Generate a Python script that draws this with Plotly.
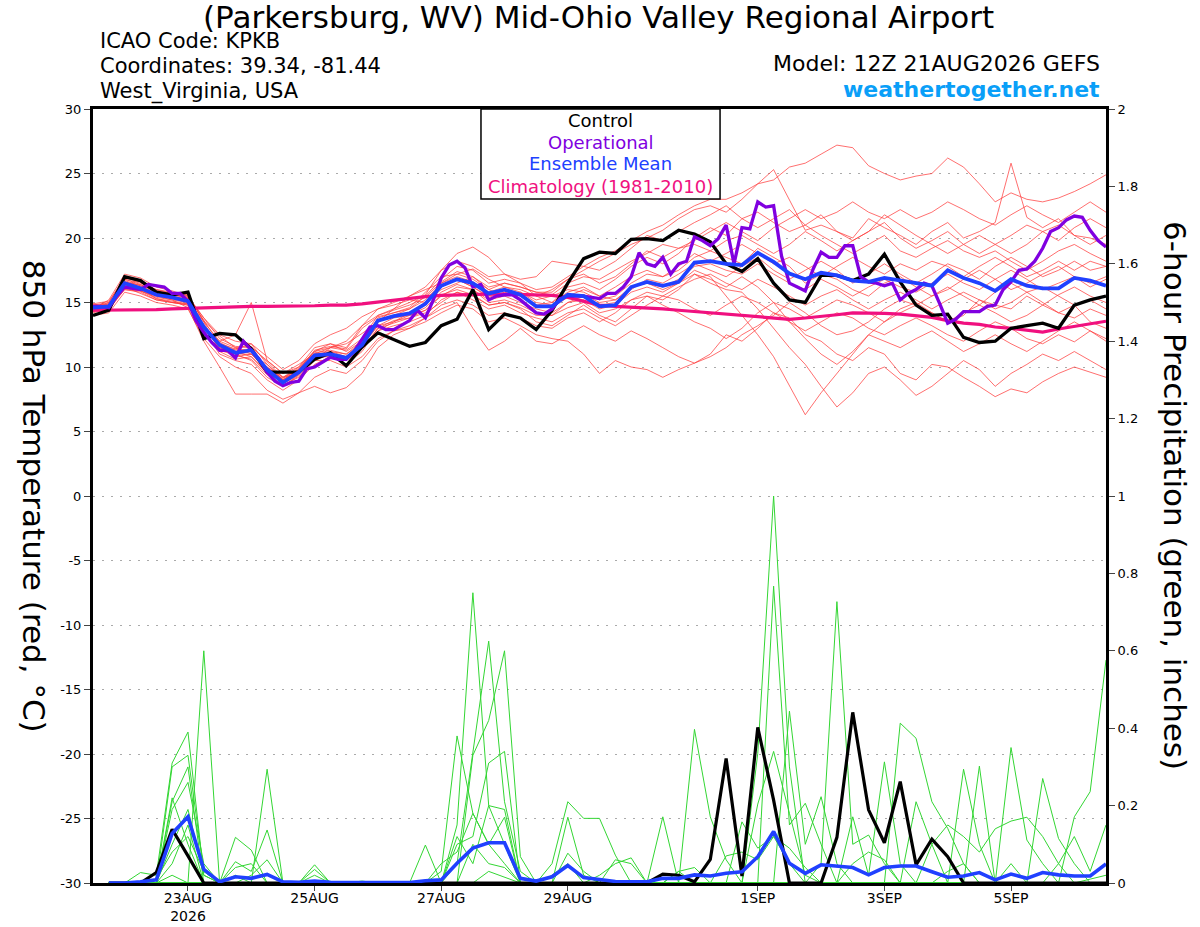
import datetime as dt
import plotly.graph_objects as go

# forecast run and time steps
init = dt.datetime(2026, 8, 21, 12)
t6 = [init + dt.timedelta(hours=6 * k) for k in range(65)]
t3 = [init + dt.timedelta(hours=3 * k) for k in range(129)]
t_precip = t6[1:]

tick_days = ["2026-08-23", "2026-08-25", "2026-08-27", "2026-08-29",
             "2026-09-01", "2026-09-03", "2026-09-05"]
tick_text = ["23AUG<br>2026", "25AUG", "27AUG", "29AUG", "1SEP", "3SEP", "5SEP"]
temp_ticks = [30, 25, 20, 15, 10, 5, 0, -5, -10, -15, -20, -25, -30]
temp_tick_text = ["30", "25", "20", "15", "10", "5", "0", "-5", "-10", "-15", "-20", "-25", "-30"]

# 850 hPa temperature (C), 6-hourly
control_t = [14.0, 14.4, 17.0, 16.7, 15.8, 15.6, 15.8, 12.2, 12.6, 12.5, 11.4, 9.6, 9.6,
             9.6, 10.6, 11.1, 10.1, 11.55, 12.65, 12.1, 11.6, 11.9, 13.2, 13.7, 16.0, 12.9,
             14.1, 13.8, 12.9, 14.4, 16.5, 18.4, 18.9, 18.8, 19.9, 19.95, 19.8, 20.6, 20.3,
             19.7, 18.0, 17.4, 18.4, 16.5, 15.2, 15.0, 17.1, 17.1, 16.7, 17.2, 18.75, 16.6,
             14.8, 14.0, 14.1, 12.3, 11.9, 12.0, 13.0, 13.2, 13.4, 13.0, 14.8, 15.2, 15.5]

mean_t = [14.6, 14.7, 16.5, 16.1, 15.6, 15.4, 15.1, 13.1, 11.7, 11.1, 11.3, 9.8, 8.8,
          9.6, 10.9, 11.0, 10.7, 11.7, 13.6, 13.95, 14.15, 14.9, 16.3, 16.8, 16.5, 15.7,
          16.0, 15.6, 14.7, 14.7, 15.6, 15.5, 14.7, 14.8, 16.2, 16.6, 16.3, 16.6, 18.1,
          18.2, 18.0, 17.9, 18.85, 18.15, 17.25, 16.8, 17.3, 17.1, 16.7, 16.6, 16.9, 16.7,
          16.5, 16.3, 17.5, 16.9, 16.5, 15.9, 16.8, 16.3, 16.1, 16.1, 16.9, 16.7, 16.3]

climo_t = [14.4, 14.4, 14.4, 14.4, 14.45, 14.5, 14.55, 14.6, 14.65, 14.65, 14.7, 14.7, 14.7,
           14.7, 14.75, 14.8, 14.8, 14.9, 15.05, 15.2, 15.35, 15.45, 15.55, 15.6, 15.65, 15.65,
           15.65, 15.6, 15.6, 15.55, 15.4, 15.1, 14.8, 14.7, 14.65, 14.6, 14.5, 14.4, 14.3,
           14.2, 14.1, 13.95, 13.85, 13.75, 13.7, 13.8, 13.9, 14.05, 14.2, 14.2, 14.15, 14.1,
           14.0, 13.85, 13.6, 13.4, 13.3, 13.1, 13.0, 12.85, 12.7, 12.95, 13.15, 13.35, 13.55]

# operational run, 3-hourly
oper_t = [14.7, 14.7, 14.6, 15.5, 16.2, 16.1, 16.0, 16.4, 16.3, 16.2, 15.7, 15.7, 15.1,
          13.6, 12.7, 11.9, 11.3, 11.3, 10.7, 12.0, 11.3, 10.6, 9.6, 8.9, 8.55, 8.8,
          8.9, 9.85, 10.0, 10.4, 10.75, 10.6, 10.6, 11.2,
          12.1, 13.1, 13.2, 12.9, 12.9, 13.25, 13.6, 14.4, 13.8, 15.2, 16.9, 17.9, 18.2,
          17.7, 16.2, 16.4, 15.2, 15.5, 15.6, 15.6, 15.2, 14.7, 14.2, 14.1, 14.5, 15.3,
          15.5, 15.5, 15.5, 15.4, 15.3, 15.7, 15.7,
          16.2, 17.0, 18.85, 18.0, 17.8, 18.5, 17.2, 18.0, 18.2, 20.1, 19.8, 19.4, 19.95,
          21.0, 18.0, 20.8, 20.7, 22.8, 22.4, 22.5, 18.6, 16.5, 16.2, 15.9, 17.6, 18.9,
          18.5, 18.5, 19.4, 19.4,
          17.0, 16.6, 16.5, 16.3, 16.5, 15.2, 15.7, 16.0, 16.5, 16.3, 14.9, 13.4, 13.7,
          14.3, 14.3, 14.3, 14.7, 14.8, 16.0, 16.6, 17.5, 17.6, 18.2, 19.2, 20.5, 20.8,
          21.4, 21.7, 21.6, 20.6, 19.8, 19.3]

# ensemble members (red)
r01 = [14.8, 15.0, 16.8, 16.5, 16.0, 15.8, 15.6, 13.5, 12.0, 11.5, 11.0, 10.0, 9.0,
       9.8, 11.2, 11.8, 11.5, 13.2, 14.0, 14.5, 15.0, 15.6, 17.5, 18.8, 19.3, 18.5,
       17.2, 16.5, 16.0, 16.2, 17.0, 17.8, 18.5, 19.0, 19.8, 20.5, 21.0, 21.8, 22.5,
       23.0, 23.0, 23.5, 24.2, 24.5, 25.5, 25.8, 26.5, 27.2, 27.0, 25.6, 25.0, 24.5,
       24.8, 25.0, 26.2, 25.5, 24.2, 22.8, 23.5, 23.0, 22.8, 23.1, 23.6, 24.2, 24.9]
r02 = [14.5, 14.9, 16.3, 16.8, 15.9, 15.5, 15.2, 13.0, 11.5, 11.2, 10.8, 9.5, 8.6,
       9.2, 10.5, 11.5, 11.8, 12.6, 13.5, 14.5, 15.5, 16.0, 16.5, 17.2, 17.6, 16.8,
       16.2, 16.0, 15.5, 16.0, 16.8, 17.5, 18.2, 18.8, 19.5, 20.0, 20.6, 21.5, 22.2,
       22.5, 22.0, 23.0, 24.2, 25.3, 23.0, 20.6, 21.0, 20.5, 20.0, 21.5, 20.8, 20.2,
       19.5, 20.5, 21.2, 20.0, 20.5, 21.2, 25.8, 21.6, 20.8, 21.5, 20.2, 20.0, 19.5]
r03 = [14.2, 14.5, 16.0, 15.8, 15.2, 15.0, 14.8, 12.8, 11.0, 10.5, 10.2, 9.0, 8.2,
       9.0, 10.2, 10.8, 10.5, 11.5, 12.8, 13.5, 14.0, 14.4, 15.5, 16.2, 16.0, 15.0,
       15.2, 14.8, 14.2, 14.0, 15.0, 15.5, 14.8, 15.0, 16.2, 16.5, 16.0, 16.5, 17.5,
       17.0, 15.5, 14.0, 12.5, 10.8, 8.5, 6.3, 8.0, 9.5, 11.0, 12.5, 13.5, 14.5,
       15.0, 14.2, 13.5, 14.0, 15.2, 14.8, 14.5, 15.5, 14.8, 15.6, 16.2, 15.5, 15.0]
r04 = [14.9, 14.6, 16.6, 16.2, 15.5, 15.2, 15.0, 13.2, 11.8, 10.8, 11.0, 10.2, 9.2,
       9.5, 10.8, 10.8, 10.2, 11.2, 13.0, 13.6, 13.8, 14.2, 15.0, 15.8, 15.5, 14.8,
       15.0, 14.5, 13.5, 13.2, 14.0, 14.8, 14.0, 13.5, 14.5, 15.5, 15.2, 16.0, 17.2,
       16.5, 16.0, 15.8, 14.5, 13.0, 11.5, 10.2, 8.5, 6.9, 8.0, 9.5, 10.0, 9.0,
       7.8, 8.5, 9.5, 10.5, 9.8, 8.5, 9.5, 10.2, 11.0, 10.5, 11.2, 10.5, 9.8]
r05 = [14.0, 14.2, 15.8, 15.5, 15.0, 14.8, 14.5, 12.2, 10.8, 10.0, 9.5, 8.2, 7.5,
       8.0, 8.5, 8.0, 8.4, 9.5, 11.5, 12.5, 13.0, 13.5, 14.2, 14.8, 14.5, 13.5,
       13.8, 13.2, 12.5, 12.2, 12.0, 11.0, 9.5, 10.5, 10.0, 9.8, 9.2, 9.8, 10.3,
       11.0, 12.5, 12.0, 13.0, 14.2, 13.8, 12.5, 12.0, 11.0, 10.5, 11.5, 11.0, 9.5,
       9.0, 10.2, 10.0, 9.2, 8.5, 7.7, 8.3, 8.0, 8.85, 9.5, 10.0, 9.6, 9.2]
r06 = [14.6, 15.0, 17.0, 16.6, 15.9, 15.7, 15.4, 13.8, 12.2, 11.6, 11.5, 10.5, 9.5,
       10.0, 11.5, 11.8, 11.2, 12.0, 13.8, 14.2, 14.5, 15.5, 16.8, 17.8, 17.5, 16.5,
       16.8, 16.5, 15.5, 15.0, 16.2, 16.5, 16.0, 16.8, 17.8, 18.5, 18.0, 18.8, 20.0,
       20.8, 20.2, 21.5, 22.0, 21.2, 20.5, 21.0, 21.8, 20.5, 19.8, 20.5, 21.2, 20.0,
       19.2, 19.8, 20.5, 19.5, 18.8, 19.5, 20.2, 21.0, 20.5, 19.8, 20.8, 21.5, 20.8]
r07 = [14.3, 14.8, 16.2, 16.0, 15.6, 15.5, 15.2, 13.5, 11.2, 11.4, 11.8, 10.2, 9.0,
       9.8, 11.0, 11.2, 11.0, 11.8, 13.2, 13.5, 14.2, 15.0, 16.0, 16.5, 17.0, 16.0,
       15.5, 15.8, 15.2, 15.5, 16.0, 15.8, 15.2, 15.5, 16.5, 17.2, 17.0, 17.5, 18.5,
       19.0, 18.5, 18.0, 19.2, 18.5, 17.8, 16.5, 17.2, 16.8, 16.0, 15.5, 16.5, 17.0,
       16.2, 15.5, 16.0, 16.8, 17.5, 16.8, 16.0, 16.5, 17.2, 17.8, 17.0, 16.5, 17.0]
r08 = [14.7, 14.4, 16.4, 16.1, 15.3, 15.0, 14.8, 12.5, 11.5, 11.0, 10.5, 9.2, 8.5,
       9.4, 10.8, 11.2, 10.8, 11.5, 12.8, 13.2, 13.5, 14.0, 15.2, 15.8, 15.2, 14.5,
       14.8, 14.2, 13.8, 13.5, 14.2, 14.5, 13.8, 13.2, 14.0, 14.8, 15.5, 15.2, 14.5,
       14.0, 14.8, 15.5, 15.0, 14.2, 13.5, 12.8, 13.5, 14.2, 13.8, 13.0, 12.5, 13.2,
       13.8, 13.2, 12.5, 12.0, 12.8, 13.5, 13.0, 12.2, 11.8, 12.5, 11.95, 12.8, 12.0]
r09 = [14.5, 15.2, 17.2, 16.9, 16.2, 15.9, 15.5, 13.8, 12.5, 12.0, 11.8, 10.8, 9.8,
       10.5, 11.8, 12.5, 13.0, 13.9, 14.5, 15.0, 15.5, 16.2, 17.5, 18.2, 17.8, 17.0,
       17.2, 16.8, 17.0, 18.2, 18.0, 17.8, 17.5, 18.2, 19.2, 20.2, 19.8, 20.5, 21.2,
       21.8, 22.5, 21.5, 20.8, 21.5, 22.2, 21.0, 20.2, 19.5, 18.8, 19.5, 20.2, 19.0,
       18.5, 19.2, 19.8, 19.0, 18.5, 19.0, 18.2, 17.5, 18.2, 19.0, 19.5, 18.8, 18.2]
r10 = [14.8, 14.8, 16.5, 16.4, 15.8, 15.6, 15.3, 13.0, 12.0, 12.5, 15.0, 10.5, 9.5,
       10.2, 11.0, 11.5, 12.0, 13.2, 14.5, 14.8, 15.2, 15.0, 16.2, 16.8, 16.2, 15.5,
       16.0, 15.5, 14.8, 15.0, 15.8, 16.2, 15.5, 15.2, 16.0, 16.8, 16.5, 17.2, 18.0,
       17.5, 17.0, 17.8, 18.5, 17.5, 16.8, 17.5, 18.2, 17.5, 16.5, 17.2, 18.0, 17.2,
       16.5, 17.2, 18.0, 17.5, 16.8, 17.8, 18.5, 17.8, 17.0, 17.5, 18.2, 17.5, 17.8]
r11 = [14.4, 14.6, 16.0, 15.9, 15.4, 15.2, 14.6, 12.0, 10.0, 7.9, 7.9, 7.9, 7.2,
       8.0, 9.2, 9.8, 9.5, 10.5, 12.0, 12.8, 13.0, 13.8, 14.8, 15.2, 14.8, 14.0,
       14.2, 13.8, 13.2, 13.0, 13.8, 14.2, 13.5, 14.2, 15.2, 15.8, 15.5, 16.2, 16.8,
       17.2, 16.5, 16.0, 16.8, 16.2, 15.5, 14.8, 15.5, 16.0, 15.2, 14.5, 15.2, 15.8,
       15.2, 14.5, 15.2, 15.8, 15.2, 14.5, 15.0, 15.8, 16.2, 15.5, 14.8, 15.2, 14.5]
r12 = [14.6, 14.5, 16.2, 15.7, 15.2, 15.0, 14.9, 12.8, 11.2, 10.6, 10.8, 9.6, 8.8,
       9.5, 10.5, 10.5, 10.0, 10.8, 12.2, 12.8, 13.2, 13.8, 14.5, 15.0, 13.0, 11.3,
       12.0, 13.0, 12.0, 11.8, 12.5, 13.2, 12.5, 12.0, 12.8, 12.2, 11.5, 10.8, 10.3,
       10.8, 11.5, 12.5, 13.2, 14.0, 15.0, 14.2, 13.2, 12.5, 12.8, 13.5, 14.5, 15.2,
       14.8, 15.5, 16.2, 15.5, 14.8, 15.8, 16.5, 15.8, 15.0, 14.2, 14.8, 13.5, 13.0]
r13 = [14.9, 15.1, 16.9, 16.6, 16.0, 15.7, 15.5, 13.6, 12.4, 11.5, 11.6, 10.4, 9.2,
       9.8, 11.3, 11.6, 11.4, 13.0, 13.9, 14.2, 14.6, 15.8, 17.0, 17.2, 16.8, 16.0,
       16.5, 16.2, 15.8, 15.6, 16.5, 17.0, 16.8, 17.5, 18.2, 18.8, 19.5, 19.2, 19.8,
       20.5, 21.2, 20.5, 19.8, 20.8, 21.5, 22.2, 21.5, 22.0, 22.8, 22.0, 21.5, 22.2,
       21.5, 22.0, 22.8, 22.2, 21.5, 21.0, 21.8, 22.5, 21.8, 21.2, 22.0, 22.8, 22.0]
r14 = [14.4, 14.7, 16.7, 16.3, 15.7, 15.3, 15.0, 13.2, 11.6, 11.0, 11.2, 9.9, 9.0,
       9.7, 11.0, 11.0, 10.8, 11.8, 13.5, 14.0, 14.5, 15.2, 16.5, 17.0, 16.6, 15.8,
       16.2, 15.8, 15.0, 14.8, 15.5, 16.0, 15.5, 16.2, 17.0, 17.5, 17.0, 17.8, 18.8,
       18.2, 18.8, 19.5, 18.8, 18.0, 18.5, 17.8, 17.0, 17.8, 18.5, 17.8, 17.2, 18.0,
       17.5, 18.2, 17.8, 17.0, 17.8, 18.5, 17.8, 17.0, 17.5, 18.2, 17.5, 18.2, 17.8]
r15 = [14.7, 14.9, 16.6, 16.3, 15.6, 15.4, 15.2, 13.3, 11.4, 11.0, 11.0, 9.7, 8.7,
       9.4, 10.7, 11.0, 10.6, 11.6, 13.2, 13.8, 14.0, 14.6, 15.8, 16.4, 16.0, 15.2,
       15.5, 15.0, 14.5, 14.2, 15.0, 15.2, 14.5, 14.8, 15.8, 16.2, 15.8, 16.5, 17.2,
       16.8, 16.2, 17.0, 16.2, 15.0, 13.5, 12.2, 11.0, 10.2, 11.2, 12.5, 12.0, 11.5,
       12.2, 12.8, 12.0, 11.2, 11.8, 12.5, 11.8, 11.2, 12.0, 12.8, 13.5, 12.8, 12.2]
r16 = [14.5, 14.8, 16.4, 15.9, 15.5, 15.3, 15.1, 13.2, 11.9, 11.3, 11.4, 9.9, 9.1,
       9.9, 11.1, 11.3, 11.0, 12.0, 13.6, 14.0, 14.2, 15.0, 16.2, 16.8, 16.2, 15.4,
       15.8, 15.5, 14.8, 14.6, 15.4, 15.6, 15.0, 15.2, 16.2, 16.5, 16.2, 16.8, 17.8,
       18.0, 17.5, 17.2, 18.0, 17.2, 16.5, 16.0, 16.8, 16.2, 15.5, 16.2, 16.8, 16.2,
       15.8, 16.5, 17.2, 16.5, 16.0, 16.8, 17.5, 16.8, 16.0, 16.5, 17.0, 16.2, 16.8]
r17 = [14.8, 14.6, 16.8, 16.4, 15.8, 15.6, 15.4, 13.6, 11.8, 11.4, 11.2, 10.0, 9.2,
       10.0, 11.2, 11.5, 11.3, 12.2, 14.0, 14.4, 14.8, 15.4, 16.6, 17.4, 17.0, 16.2,
       16.5, 16.2, 15.8, 15.8, 16.8, 17.2, 16.5, 17.0, 18.0, 19.0, 18.5, 19.2, 19.5,
       19.0, 19.8, 20.2, 19.5, 18.8, 19.5, 20.5, 19.8, 19.0, 19.8, 20.5, 21.8, 21.0,
       20.2, 19.5, 18.8, 19.5, 20.2, 19.5, 18.8, 19.5, 20.5, 21.0, 20.2, 19.5, 20.2]
r18 = [14.3, 14.4, 16.1, 15.9, 15.3, 15.1, 14.9, 12.6, 11.3, 10.9, 10.6, 9.4, 8.5,
       9.3, 10.6, 10.9, 10.7, 11.4, 13.0, 13.4, 13.8, 14.4, 15.6, 16.0, 15.6, 14.8,
       15.0, 14.6, 14.0, 14.0, 14.6, 15.0, 14.2, 14.5, 15.2, 15.5, 14.8, 14.2, 13.5,
       13.0, 12.2, 13.0, 14.2, 15.0, 14.5, 13.8, 14.5, 15.2, 14.8, 14.2, 13.5, 14.2,
       14.8, 14.2, 13.5, 14.2, 14.8, 14.2, 13.5, 14.0, 14.8, 14.2, 13.8, 14.5, 14.0]
red_members = [r01, r02, r03, r04, r05, r06, r07, r08, r09,
               r10, r11, r12, r13, r14, r15, r16, r17, r18]

# 6-hour precipitation (inches), valid at hours 6..384
control_p = [0, 0, 0, 0.027, 0.139, 0.07, 0, 0, 0, 0, 0, 0, 0, 0, 0, 0,
             0, 0, 0, 0, 0, 0, 0, 0, 0, 0, 0, 0, 0, 0, 0, 0,
             0, 0, 0, 0.023, 0.02, 0.003, 0.061, 0.322, 0.018, 0.402, 0.214, 0, 0, 0, 0.118, 0.441,
             0.189, 0.104, 0.262, 0.047, 0.113, 0.068, 0, 0, 0, 0, 0, 0, 0, 0, 0, 0]
mean_p = [0, 0, 0.003, 0.008, 0.128, 0.171, 0.035, 0.003, 0.016, 0.012, 0.022, 0.003, 0.002, 0.005, 0.002, 0.001,
          0.002, 0.001, 0.001, 0.001, 0.006, 0.008, 0.051, 0.09, 0.104, 0.104, 0.012, 0.005, 0.016, 0.045, 0.014, 0.008,
          0.004, 0.003, 0.003, 0.012, 0.012, 0.021, 0.018, 0.025, 0.029, 0.068, 0.133, 0.051, 0.025, 0.047, 0.044, 0.04,
          0.021, 0.04, 0.044, 0.044, 0.029, 0.015, 0.018, 0.027, 0.008, 0.023, 0.012, 0.027, 0.021, 0.018, 0.018, 0.049]

g01 = [0, 0, 0.027, 0.02, 0.31, 0.39, 0.02, 0, 0.118, 0.085, 0, 0, 0, 0, 0, 0,
       0, 0, 0, 0, 0, 0.03, 0.38, 0.18, 0.10, 0.05, 0, 0, 0, 0, 0, 0,
       0, 0, 0, 0.171, 0, 0, 0, 0, 0, 0.204, 0.34, 0.18, 0.02, 0, 0, 0,
       0, 0, 0, 0, 0, 0, 0, 0, 0, 0, 0, 0, 0, 0, 0.01, 0.02]
g02 = [0, 0, 0, 0, 0.30, 0.33, 0.03, 0, 0, 0, 0, 0, 0, 0.047, 0, 0,
       0, 0, 0, 0, 0, 0, 0.15, 0.75, 0.20, 0.10, 0, 0, 0.05, 0.21, 0.167, 0.167,
       0.072, 0, 0, 0, 0, 0.397, 0.171, 0.06, 0, 0, 0, 0, 0, 0, 0, 0,
       0, 0, 0, 0, 0, 0.03, 0.05, 0, 0, 0, 0, 0, 0, 0, 0, 0]
g03 = [0, 0, 0, 0, 0.21, 0.30, 0, 0, 0.055, 0.03, 0.137, 0, 0, 0, 0, 0,
       0, 0, 0, 0, 0, 0, 0.05, 0.34, 0.625, 0.21, 0.03, 0, 0, 0, 0, 0,
       0, 0, 0, 0, 0, 0, 0, 0, 0, 0.335, 1.0, 0.30, 0, 0, 0, 0,
       0, 0, 0, 0, 0, 0, 0, 0, 0, 0, 0, 0, 0, 0, 0, 0]
g04 = [0, 0, 0, 0, 0.19, 0.26, 0.05, 0, 0, 0, 0.294, 0, 0, 0, 0, 0,
       0, 0, 0, 0, 0, 0, 0, 0.33, 0.42, 0.60, 0.068, 0, 0, 0, 0, 0,
       0, 0, 0, 0, 0, 0, 0, 0, 0, 0, 0.767, 0.15, 0.206, 0.10, 0, 0,
       0, 0, 0, 0, 0, 0, 0, 0, 0, 0, 0, 0, 0, 0, 0, 0]
g05 = [0, 0, 0, 0, 0.02, 0, 0.60, 0, 0, 0, 0, 0, 0, 0, 0, 0,
       0.005, 0, 0, 0, 0, 0, 0.10, 0.12, 0.31, 0.34, 0, 0, 0, 0.17, 0.02, 0,
       0, 0, 0, 0, 0, 0, 0, 0, 0, 0, 0, 0.444, 0.10, 0.223, 0.05, 0,
       0, 0, 0, 0, 0, 0, 0, 0, 0, 0, 0, 0, 0, 0, 0, 0]
g06 = [0, 0, 0, 0, 0.10, 0.19, 0.02, 0, 0.04, 0.05, 0, 0, 0, 0, 0, 0,
       0, 0, 0, 0, 0, 0, 0.12, 0.05, 0.20, 0.19, 0, 0, 0, 0.077, 0.03, 0,
       0, 0, 0, 0, 0, 0, 0, 0, 0, 0, 0, 0, 0, 0.05, 0.727, 0.10,
       0.124, 0.05, 0, 0, 0, 0, 0, 0, 0, 0, 0, 0, 0, 0, 0, 0]
g07 = [0, 0, 0, 0, 0.05, 0.15, 0, 0, 0, 0.02, 0.06, 0, 0, 0, 0, 0,
       0, 0, 0, 0, 0, 0.05, 0.08, 0.18, 0.10, 0.17, 0, 0, 0, 0, 0, 0,
       0, 0, 0, 0, 0, 0, 0, 0, 0.158, 0.09, 0.12, 0.05, 0, 0, 0, 0,
       0, 0, 0, 0, 0, 0, 0, 0, 0, 0, 0, 0, 0, 0, 0, 0]
g08 = [0, 0, 0, 0, 0.22, 0.10, 0, 0, 0, 0, 0, 0, 0, 0.035, 0, 0,
       0, 0, 0, 0, 0, 0, 0, 0.10, 0.05, 0.04, 0, 0, 0.02, 0.05, 0, 0,
       0, 0, 0, 0, 0, 0, 0, 0, 0, 0, 0, 0, 0, 0, 0, 0.171,
       0.02, 0.313, 0.05, 0, 0, 0, 0, 0, 0, 0, 0, 0, 0, 0, 0, 0]
g09 = [0, 0, 0, 0.01, 0.08, 0.12, 0.03, 0, 0, 0, 0, 0, 0, 0.02, 0, 0,
       0, 0, 0, 0, 0, 0, 0, 0, 0.03, 0.015, 0, 0, 0, 0, 0, 0,
       0, 0, 0, 0, 0, 0, 0, 0, 0, 0, 0, 0, 0, 0, 0, 0,
       0, 0, 0.413, 0.374, 0.21, 0.141, 0.05, 0, 0, 0, 0, 0, 0, 0, 0, 0]
g10 = [0, 0, 0, 0, 0, 0, 0, 0, 0, 0, 0, 0, 0, 0, 0, 0,
       0, 0, 0, 0, 0.098, 0, 0, 0, 0, 0, 0, 0, 0, 0, 0, 0,
       0, 0, 0, 0, 0, 0, 0, 0, 0, 0, 0, 0, 0, 0, 0, 0,
       0, 0, 0, 0.21, 0.10, 0, 0.294, 0.10, 0, 0, 0, 0, 0, 0, 0, 0]
g11 = [0, 0, 0, 0, 0, 0, 0, 0, 0, 0, 0, 0, 0, 0, 0, 0,
       0, 0, 0, 0, 0, 0, 0, 0, 0, 0, 0, 0, 0, 0, 0, 0.02,
       0.05, 0.065, 0, 0, 0, 0, 0, 0, 0, 0, 0, 0, 0, 0, 0, 0,
       0, 0, 0, 0, 0, 0, 0, 0.302, 0, 0.05, 0, 0, 0, 0, 0, 0]
g12 = [0, 0, 0, 0, 0, 0, 0, 0, 0.02, 0, 0, 0, 0, 0, 0, 0,
       0, 0, 0, 0, 0, 0, 0, 0, 0, 0, 0, 0, 0, 0, 0, 0,
       0, 0, 0, 0, 0, 0, 0, 0, 0, 0, 0, 0, 0, 0, 0, 0,
       0, 0, 0, 0, 0, 0, 0, 0, 0, 0.35, 0.111, 0.05, 0, 0, 0, 0]
g13 = [0, 0, 0, 0, 0, 0, 0, 0, 0, 0, 0, 0, 0, 0, 0, 0,
       0, 0, 0, 0, 0, 0, 0, 0, 0, 0, 0, 0, 0, 0, 0, 0,
       0, 0, 0, 0, 0.03, 0, 0, 0, 0, 0, 0, 0, 0, 0, 0, 0,
       0, 0, 0, 0, 0, 0, 0, 0, 0, 0, 0, 0.27, 0.115, 0.05, 0, 0]
g14 = [0, 0, 0, 0, 0, 0, 0, 0, 0, 0, 0, 0, 0, 0, 0, 0,
       0, 0, 0, 0, 0, 0, 0, 0, 0, 0, 0, 0, 0, 0, 0, 0,
       0, 0, 0, 0, 0, 0, 0, 0, 0, 0, 0, 0, 0, 0, 0, 0,
       0, 0, 0, 0, 0, 0, 0, 0, 0, 0, 0, 0, 0, 0.171, 0.236, 0.576]
g15 = [0, 0, 0, 0, 0, 0, 0, 0, 0, 0, 0, 0, 0, 0, 0, 0,
       0, 0, 0, 0, 0, 0, 0, 0, 0, 0, 0, 0, 0, 0, 0, 0,
       0, 0, 0, 0, 0, 0, 0, 0, 0, 0, 0, 0, 0, 0, 0, 0,
       0, 0, 0, 0, 0.10, 0.15, 0.12, 0.08, 0.14, 0.16, 0.17, 0.12, 0.05, 0, 0, 0]
g16 = [0, 0, 0, 0, 0, 0, 0, 0, 0, 0, 0, 0, 0, 0, 0, 0,
       0, 0, 0, 0, 0, 0, 0, 0, 0, 0, 0, 0, 0, 0, 0, 0,
       0, 0, 0, 0, 0, 0, 0, 0.07, 0.08, 0.06, 0.12, 0.09, 0.04, 0, 0, 0,
       0, 0, 0, 0, 0, 0, 0, 0, 0, 0, 0, 0, 0, 0, 0, 0]
g17 = [0, 0, 0, 0, 0, 0, 0, 0, 0, 0, 0, 0, 0, 0, 0, 0,
       0, 0, 0, 0, 0, 0, 0, 0, 0, 0, 0, 0, 0, 0, 0, 0,
       0.06, 0.05, 0, 0, 0.03, 0.04, 0, 0, 0, 0, 0, 0, 0, 0, 0, 0.05,
       0.08, 0.06, 0, 0, 0, 0, 0, 0, 0, 0, 0, 0, 0, 0, 0, 0]
g18 = [0, 0, 0, 0, 0, 0, 0, 0, 0, 0, 0, 0, 0, 0, 0, 0,
       0, 0, 0, 0, 0, 0, 0, 0, 0, 0, 0, 0, 0, 0, 0, 0,
       0, 0, 0, 0, 0, 0, 0, 0, 0, 0, 0, 0, 0, 0, 0, 0,
       0, 0, 0, 0, 0, 0, 0, 0, 0, 0, 0, 0, 0.05, 0.12, 0.03, 0.15]
green_members = [g01, g02, g03, g04, g05, g06, g07, g08, g09,
                 g10, g11, g12, g13, g14, g15, g16, g17, g18]

FONT = "DejaVu Sans"
RED = "rgba(255,55,55,0.72)"
GREEN = "#33d633"
PURPLE = "#8000e0"
BLUE = "#2040ff"
MAGENTA = "#f0107f"

fig = go.Figure()

for m in red_members:
    fig.add_trace(go.Scatter(x=t6, y=m, mode="lines",
                             line=dict(color=RED, width=1)))

fig.add_trace(go.Scatter(x=t6, y=climo_t, mode="lines",
                         line=dict(color=MAGENTA, width=3.2)))
fig.add_trace(go.Scatter(x=t6, y=control_t, mode="lines",
                         line=dict(color="black", width=3.3)))
fig.add_trace(go.Scatter(x=t3, y=oper_t, mode="lines",
                         line=dict(color=PURPLE, width=3.3)))
fig.add_trace(go.Scatter(x=t6, y=mean_t, mode="lines",
                         line=dict(color=BLUE, width=3.8)))

for m in green_members:
    fig.add_trace(go.Scatter(x=t_precip, y=m, mode="lines", yaxis="y2",
                             line=dict(color=GREEN, width=1)))
fig.add_trace(go.Scatter(x=t_precip, y=control_p, mode="lines", yaxis="y2",
                         line=dict(color="black", width=3.2)))
fig.add_trace(go.Scatter(x=t_precip, y=mean_p, mode="lines", yaxis="y2",
                         line=dict(color=BLUE, width=3.6)))

# legend box, drawn over the lines
fig.add_shape(type="rect", xref="paper", yref="paper",
              x0=0.383, x1=0.619, y0=0.8837, y1=1.0,
              fillcolor="white", line=dict(color="black", width=1.5),
              layer="above")

legend_rows = [("Control", "black", 0.9845),
               ("Operational", PURPLE, 0.957),
               ("Ensemble Mean", BLUE, 0.9298),
               ("Climatology (1981-2010)", MAGENTA, 0.9005)]
for txt, col, yy in legend_rows:
    fig.add_annotation(text=txt, x=0.501, y=yy, xref="paper", yref="paper",
                       showarrow=False, xanchor="center", yanchor="middle",
                       font=dict(family=FONT, size=18, color=col))

notes = [
    ("(Parkersburg, WV) Mid-Ohio Valley Regional Airport", 0.4995, 1.1185, "center", 31, "black"),
    ("ICAO Code: KPKB", 0.0049, 1.0885, "left", 21, "black"),
    ("Coordinates: 39.34, -81.44", 0.0049, 1.0556, "left", 21, "black"),
    ("West_Virginia, USA", 0.0049, 1.0220, "left", 21, "black"),
    ("Model: 12Z 21AUG2026 GEFS", 0.996, 1.0594, "right", 22, "black"),
]
for txt, xx, yy, anc, sz, col in notes:
    fig.add_annotation(text=txt, x=xx, y=yy, xref="paper", yref="paper",
                       showarrow=False, xanchor=anc, yanchor="middle",
                       font=dict(family=FONT, size=sz, color=col))

fig.add_annotation(text="<b>weathertogether.net</b>", x=0.996, y=1.0258,
                   xref="paper", yref="paper", showarrow=False,
                   xanchor="right", yanchor="middle",
                   font=dict(family=FONT, size=22, color="#0a9ff8"))

fig.add_annotation(text="850 hPa Temperature (red, \u00b0C)", x=-0.058, y=0.5,
                   xref="paper", yref="paper", showarrow=False, textangle=90,
                   xanchor="center", yanchor="middle",
                   font=dict(family=FONT, size=31, color="black"))
fig.add_annotation(text="6-hour Precipitation (green, inches)", x=1.068, y=0.5,
                   xref="paper", yref="paper", showarrow=False, textangle=90,
                   xanchor="center", yanchor="middle",
                   font=dict(family=FONT, size=31, color="black"))

fig.update_layout(
    width=1200, height=927,
    margin=dict(l=93, r=94, t=109, b=44, autoexpand=False),
    paper_bgcolor="white", plot_bgcolor="white",
    showlegend=False, hovermode=False,
    font=dict(family=FONT, color="black"),
    xaxis=dict(range=[t6[0], t6[-1]], tickvals=tick_days, ticktext=tick_text,
               tickfont=dict(size=14), ticks="outside", ticklen=5, tickwidth=1,
               ticklabelstandoff=-5,
               showline=True, linewidth=3, linecolor="black", mirror=True,
               showgrid=False, zeroline=False, automargin=False),
    yaxis=dict(range=[-30, 30], tickvals=temp_ticks, ticktext=temp_tick_text,
               tickfont=dict(size=13),
               ticks="outside", ticklen=6, tickwidth=1,
               showline=True, linewidth=3, linecolor="black", mirror=True,
               showgrid=True, gridcolor="#aaaaaa", griddash="2px,7px", gridwidth=1,
               zeroline=False, automargin=False),
    yaxis2=dict(range=[0, 2], dtick=0.2, tick0=0, overlaying="y", side="right",
                tickfont=dict(size=13), ticks="outside", ticklen=6, tickwidth=1,
                showline=True, linewidth=3, linecolor="black",
                showgrid=False, zeroline=False, automargin=False),
)

fig.write_html("out.html", config={"displayModeBar": False},
               post_script="document.body.style.margin='0';")
